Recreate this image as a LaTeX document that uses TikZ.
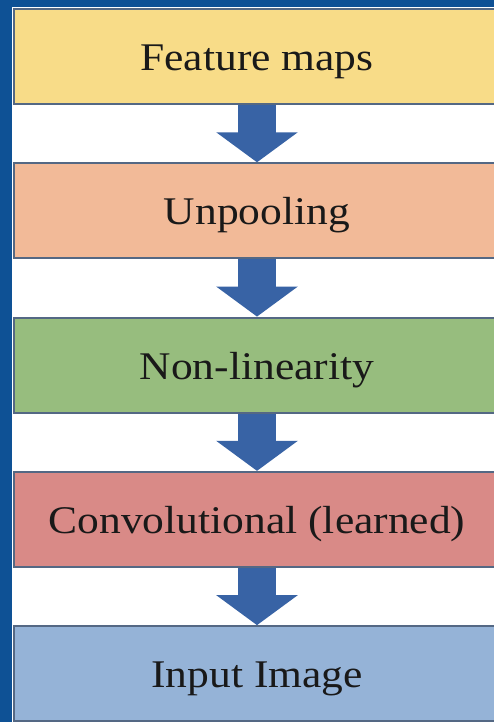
\documentclass[tikz,border=0pt]{standalone}
\usepackage{fontspec}
\setmainfont{Liberation Serif}[FakeStretch=1.11]
\usetikzlibrary{positioning,arrows.meta}

\definecolor{framebar}{RGB}{14,81,149}
\definecolor{boxedge}{RGB}{84,104,132}
\definecolor{flowblue}{RGB}{56,99,165}
\definecolor{mapyellow}{RGB}{248,220,136}
\definecolor{poolorange}{RGB}{242,186,152}
\definecolor{actgreen}{RGB}{151,189,126}
\definecolor{convred}{RGB}{217,138,135}
\definecolor{inputblue}{RGB}{149,179,215}

\begin{document}
\begin{tikzpicture}[
  layer/.style={draw=boxedge, line width=1.1pt, minimum width=9.72cm,
    minimum height=1.9cm, inner sep=0pt, text=black!90,
    text height=0.6cm, text depth=0.04cm,
    font=\fontsize{22.3}{26}\selectfont},
  flow/.style={-{Triangle[width=1.6cm,length=0.6cm]}, line width=0.76cm, flowblue},
  node distance=1.147cm
]
% Page and frame
\clip (0,0) rectangle (9.88,14.44);
\fill[white] (0,0) rectangle (9.88,14.44);
\fill[framebar] (0,0) rectangle (0.24,14.44);
\fill[framebar] (0,14.3) rectangle (9.88,14.44);

% Layers, top to bottom
\node[layer, fill=mapyellow] (maps) at (5.14,13.31) {Feature maps};
\node[layer, fill=poolorange, below=of maps] (unpool) {Unpooling};
\node[layer, fill=actgreen, below=of unpool] (nonlin) {Non-linearity};
\node[layer, fill=convred, below=of nonlin] (conv) {Convolutional (learned)};
\node[layer, fill=inputblue, below=of conv] (input) {Input Image};

% Arrows between layers
\draw[flow] (maps.south) -- (unpool.north);
\draw[flow] (unpool.south) -- (nonlin.north);
\draw[flow] (nonlin.south) -- (conv.north);
\draw[flow] (conv.south) -- (input.north);

\end{tikzpicture}
\end{document}
